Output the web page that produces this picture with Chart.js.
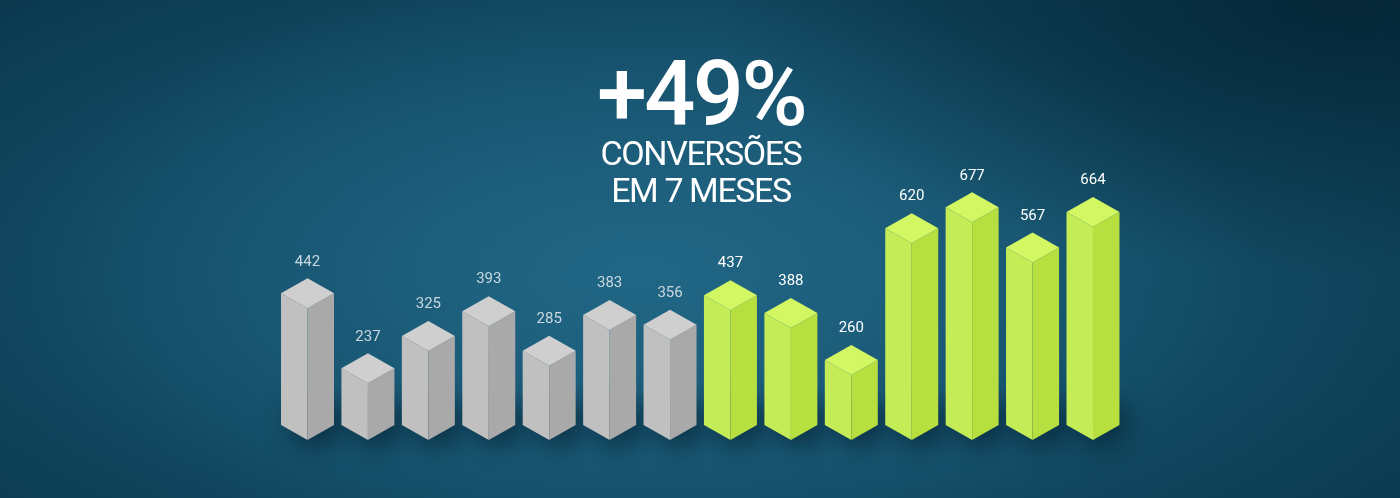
<!DOCTYPE html>
<html lang="pt">
<head>
<meta charset="utf-8">
<title>+49% conversões em 7 meses</title>
<script src="https://cdn.jsdelivr.net/npm/chart.js@4"></script>
<style>
    html, body { margin: 0; padding: 0; }
    body {
        width: 1400px;
        height: 498px;
        overflow: hidden;
        position: relative;
        background:
            radial-gradient(ellipse 620px 300px at 640px 270px, rgba(34, 104, 136, .85), rgba(34, 104, 136, 0) 100%),
            radial-gradient(ellipse 1000px 420px at 660px 280px, #1a5a76 0%, #124a63 55%, #0c3d54 85%, #0a3449 100%),
            #0a3449;
    }
    .corner {
        position: absolute; left: 0; top: 0; width: 1400px; height: 498px;
        background: radial-gradient(ellipse 620px 260px at 1330px 10px, rgba(4, 36, 52, .8), rgba(4, 36, 52, 0) 100%);
    }
    #chart { position: absolute; left: 0; top: 0; }
    .headline {
        position: absolute; left: 500px; width: 402px; text-align: center;
        color: #fff; font-family: Roboto, sans-serif; white-space: nowrap;
    }
    #big { top: 45px; font-size: 90px; line-height: 100px; font-weight: 500; letter-spacing: -2.6px; }
    .sub { font-size: 34px; line-height: 38px; font-weight: 400; letter-spacing: -1.4px; }
    #sub1 { top: 134px; }
    #sub2 { top: 171px; }
</style>
</head>
<body>
<div class="corner"></div>
<canvas id="chart" width="1400" height="498"></canvas>
<div class="headline" id="big">+49%</div>
<div class="headline sub" id="sub1">CONVERSÕES</div>
<div class="headline sub" id="sub2">EM 7 MESES</div>
<script>
(function () {
    "use strict";

    var months = ["1", "2", "3", "4", "5", "6", "7", "8", "9", "10", "11", "12", "13", "14"];
    var conversions = [442, 237, 325, 393, 285, 383, 356, 437, 388, 260, 620, 677, 567, 664];
    var highlightFrom = 7;

    var gray = { top: "#cfcfcf", left: "#c0c0c0", right: "#a9a9a9", label: "#c9d8df" };
    var green = { top: "#d2f763", left: "#c4ec56", right: "#b6df3f", label: "#ffffff" };

    var halfW = 26.5;
    var rise = 15;

    function poly(ctx, pts, fill) {
        ctx.beginPath();
        ctx.moveTo(pts[0][0], pts[0][1]);
        for (var i = 1; i < pts.length; i++) {
            ctx.lineTo(pts[i][0], pts[i][1]);
        }
        ctx.closePath();
        ctx.fillStyle = fill;
        ctx.fill();
    }

    // Isometric bars, on top of the positions from the bar elements
    var prismPlugin = {
        id: "prism",
        afterDatasetsDraw: function (chart) {
            var ctx = chart.ctx;
            var meta = chart.getDatasetMeta(0);
            var base = chart.scales.y.getPixelForValue(0);

            ctx.save();
            meta.data.forEach(function (bar) {
                ctx.save();
                ctx.shadowColor = "rgba(3, 28, 42, .55)";
                ctx.shadowBlur = 22;
                ctx.shadowOffsetX = 8;
                ctx.shadowOffsetY = 10;
                poly(ctx, [[bar.x - halfW, base - rise - 30], [bar.x + halfW, base - rise - 30],
                    [bar.x + halfW, base - rise], [bar.x, base], [bar.x - halfW, base - rise]], "#0b3a50");
                ctx.restore();
            });

            meta.data.forEach(function (bar, i) {
                var c = i >= highlightFrom ? green : gray;
                var x = bar.x, y = bar.y;

                poly(ctx, [[x - halfW, y + rise], [x, y + 2 * rise], [x, base], [x - halfW, base - rise]], c.left);
                poly(ctx, [[x + halfW, y + rise], [x, y + 2 * rise], [x, base], [x + halfW, base - rise]], c.right);
                poly(ctx, [[x, y], [x + halfW, y + rise], [x, y + 2 * rise], [x - halfW, y + rise]], c.top);

                ctx.font = "15px Roboto, sans-serif";
                ctx.textAlign = "center";
                ctx.textBaseline = "middle";
                ctx.fillStyle = c.label;
                ctx.fillText(String(conversions[i]), x, y - 16.5);
            });
            ctx.restore();
        }
    };

    var ctx = document.getElementById("chart").getContext("2d");
    var myChart = new Chart(ctx, {
        type: "bar",
        data: {
            labels: months,
            datasets: [{
                data: conversions,
                backgroundColor: "rgba(0, 0, 0, 0)"
            }]
        },
        options: {
            responsive: false,
            animation: false,
            devicePixelRatio: 1,
            layout: { padding: { left: 277.3, right: 276.8, top: 1, bottom: 58 } },
            plugins: { legend: { display: false }, tooltip: { enabled: false } },
            scales: {
                x: { display: false },
                y: { display: false, min: 0, max: 1200 }
            }
        },
        plugins: [prismPlugin]
    });
})();
</script>
</body>
</html>
